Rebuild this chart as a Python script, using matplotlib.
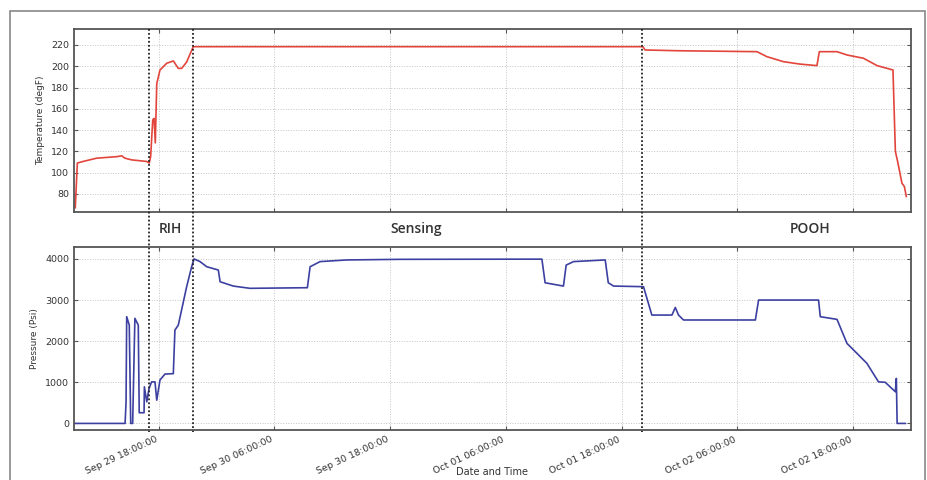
from matplotlib import pyplot as plt
import matplotlib.dates as mdates
import matplotlib.transforms as mtransforms
from matplotlib.patches import Rectangle
import pandas as pd

# Downhole gauge log: temperature and pressure vs time, one run
year = '2014'

temp_times = ['09-29 09:21', '09-29 09:34', '09-29 10:09', '09-29 11:34', '09-29 13:38',
              '09-29 14:10', '09-29 14:30', '09-29 15:12', '09-29 16:46', '09-29 17:01',
              '09-29 17:10', '09-29 17:23', '09-29 17:31', '09-29 17:39', '09-29 17:48',
              '09-29 18:08', '09-29 18:50', '09-29 19:31', '09-29 19:41', '09-29 20:02',
              '09-29 20:23', '09-29 20:54', '09-29 21:35', '10-01 20:12', '10-01 20:26',
              '10-01 23:44', '10-02 08:02', '10-02 09:04', '10-02 10:47', '10-02 12:31',
              '10-02 14:15', '10-02 14:30', '10-02 16:20', '10-02 17:22', '10-02 19:05',
              '10-02 20:29', '10-02 22:08', '10-02 22:23', '10-02 22:37', '10-02 23:04',
              '10-02 23:19', '10-02 23:31']
temp_vals = [67, 109, 110.5, 113.6, 115,
             115.8, 113.6, 112, 110.5, 109,
             115, 149.6, 151, 128, 183.6,
             196.5, 202.8, 205, 202.8, 198,
             198, 204, 218.4, 218.4, 215.3,
             214.6, 213.7, 209, 204.3, 202,
             200.6, 213.7, 213.7, 210.6, 207.5,
             200.6, 196.5, 120, 110.5, 90,
             87, 77.6]

pres_times = ['09-29 09:19', '09-29 14:31', '09-29 14:37', '09-29 14:41', '09-29 14:57',
              '09-29 15:06', '09-29 15:18', '09-29 15:32', '09-29 15:53', '09-29 15:59',
              '09-29 16:29', '09-29 16:31', '09-29 16:46', '09-29 17:00', '09-29 17:16',
              '09-29 17:37', '09-29 17:48', '09-29 18:08', '09-29 18:39', '09-29 19:31',
              '09-29 19:41', '09-29 20:02', '09-29 20:54', '09-29 21:25', '09-29 21:40',
              '09-29 22:17', '09-29 22:59', '09-30 00:11', '09-30 00:22', '09-30 01:44',
              '09-30 03:28', '09-30 09:25', '09-30 09:42', '09-30 10:44', '09-30 13:30',
              '09-30 19:02', '10-01 09:44', '10-01 10:04', '10-01 11:58', '10-01 12:15',
              '10-01 13:01', '10-01 16:18', '10-01 16:37', '10-01 17:10', '10-01 20:16',
              '10-01 21:08', '10-01 23:13', '10-01 23:34', '10-01 23:54', '10-02 00:25',
              '10-02 07:52', '10-02 08:12', '10-02 14:25', '10-02 14:36', '10-02 16:20',
              '10-02 17:22', '10-02 18:25', '10-02 19:26', '10-02 20:38', '10-02 21:20',
              '10-02 22:23', '10-02 22:29', '10-02 22:34', '10-02 23:25']
pres_vals = [0, 0, 525, 2595, 2390,
             0, 0, 2555, 2390, 260,
             260, 890, 525, 850, 1010,
             1010, 565, 1055, 1200, 1210,
             2270, 2390, 3325, 3810, 4000,
             3935, 3810, 3730, 3445, 3340,
             3285, 3300, 3810, 3935, 3975,
             3990, 3995, 3420, 3340, 3850,
             3935, 3975, 3420, 3340, 3325,
             2635, 2635, 2820, 2635, 2515,
             2515, 3000, 3000, 2595, 2530,
             1945, 1700, 1460, 1010, 1000,
             770, 1095, 0, 0]

# operation phases: run in hole, sensing, pull out of hole
phase_marks = ['09-29 16:58', '09-29 21:32', '10-01 20:06']
phase_names = ['RIH', 'Sensing', 'POOH']
phase_label_x = ['09-29 19:15', '09-30 20:40', '10-02 13:35']

def to_dt(lst):
    return pd.to_datetime([year + '-' + s for s in lst])

t_temp = to_dt(temp_times)
t_pres = to_dt(pres_times)
t_marks = to_dt(phase_marks)
t_labels = to_dt(phase_label_x)
x_range = to_dt(['09-29 09:13', '10-03 00:00'])

plt.rcParams['font.family'] = 'DejaVu Sans'
fig = plt.figure(figsize=(9.27, 4.8), dpi=100)
ax1 = fig.add_axes([0.0798, 0.5583, 0.9029, 0.38125])
ax2 = fig.add_axes([0.0798, 0.10417, 0.9029, 0.38125], sharex=ax1)

ax1.plot(t_temp, temp_vals, color='#e2453c', lw=1.2)
ax2.plot(t_pres, pres_vals, color='#3c40a0', lw=1.2)

ax1.set_ylim(63, 235)
ax1.set_yticks(range(80, 221, 20))
ax2.set_ylim(-160, 4290)
ax2.set_yticks(range(0, 4001, 1000))
ax1.set_xlim(x_range[0], x_range[1])

ax2.xaxis.set_major_locator(mdates.HourLocator(byhour=[6, 18]))
ax2.xaxis.set_major_formatter(mdates.DateFormatter('%b %d %H:%M:%S'))
plt.setp(ax1.get_xticklabels(), visible=False)
for lbl in ax2.get_xticklabels():
    lbl.set_rotation(25)
    lbl.set_ha('right')

for ax in (ax1, ax2):
    ax.grid(True, linestyle=':', color='#c4c4c4', linewidth=0.7)
    ax.tick_params(direction='in', top=True, right=True, labelsize=6.8,
                   labelcolor='#333333', color='#555555', length=3)
    for sp in ax.spines.values():
        sp.set_color('#555555')
        sp.set_linewidth(1.3)

ax1.set_ylabel('Temperature (degF)', fontsize=6.5, color='#333333')
ax2.set_ylabel('Pressure (Psi)', fontsize=6.5, color='#333333')
# x label sits right at the bottom edge, under the slanted dates
fig.text(0.531, 0.006, 'Date and Time', ha='center', va='bottom',
         fontsize=7, color='#333333')

# phase boundaries run through both panels
trans = mtransforms.blended_transform_factory(ax2.transData, fig.transFigure)
for t in t_marks:
    ax2.plot([t, t], [0.1, 0.94], transform=trans, color='#222222', lw=1.3,
             linestyle=(0, (1, 1.2)), clip_on=False)

for t, name in zip(t_labels, phase_names):
    ax2.text(t, 0.523, name, transform=trans, ha='center', va='center',
             fontsize=10, fontweight='semibold', family='Open Sans', color='#333333')

fig.patches.append(Rectangle((0.0108, -0.05), 0.987, 1.027, transform=fig.transFigure,
                             fill=False, edgecolor='#888888', lw=1.2))

fig.savefig('out.png', dpi=100)
